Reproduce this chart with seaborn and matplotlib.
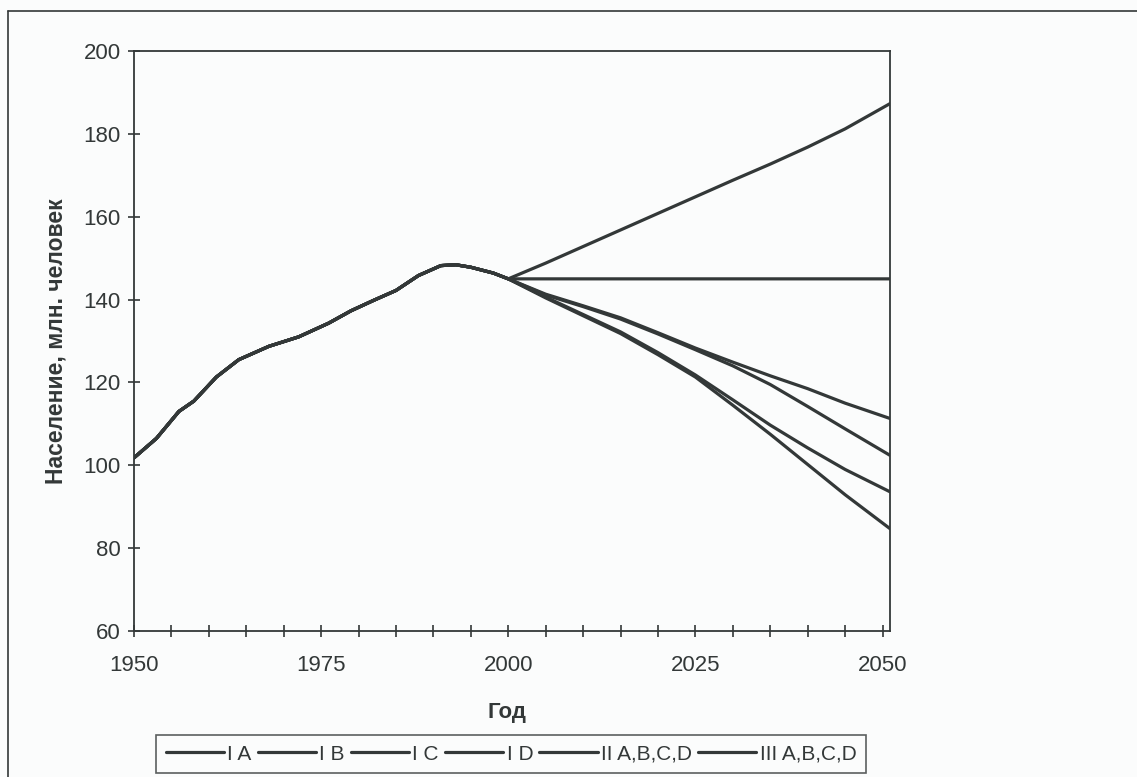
import numpy as np
import pandas as pd
import matplotlib
matplotlib.use("Agg")
import matplotlib.pyplot as plt
import seaborn as sns
from matplotlib.ticker import MultipleLocator
from matplotlib.lines import Line2D

# historical population, mln
hist_years = [1950, 1953, 1956, 1958, 1961, 1964, 1968, 1972, 1976, 1979,
              1982, 1985, 1988, 1991, 1993, 1995, 1998, 2000]
hist_pop = [101.8, 106.5, 113.0, 115.5, 121.3, 125.5, 128.7, 131.0, 134.3, 137.3,
            139.8, 142.2, 145.8, 148.2, 148.4, 147.8, 146.4, 145.0]

# projection scenarios
proj_years = [2005, 2010, 2015, 2020, 2025, 2030, 2035, 2040, 2045, 2051]
scen_IA = [141.3, 138.5, 135.6, 132.0, 128.3, 124.9, 121.6, 118.5, 115.0, 111.3]
scen_IB = [141.1, 138.3, 135.3, 131.7, 127.9, 124.0, 119.5, 114.2, 108.8, 102.4]
scen_IC = [140.6, 136.4, 132.2, 127.2, 121.8, 115.8, 109.7, 104.2, 99.0, 93.6]
scen_ID = [140.4, 136.1, 131.8, 126.7, 121.3, 114.5, 107.5, 100.2, 92.9, 84.7]
scen_II = [145.0, 145.0, 145.0, 145.0, 145.0, 145.0, 145.0, 145.0, 145.0, 145.0]
scen_III = [148.8, 152.8, 156.8, 160.8, 164.8, 168.8, 172.7, 176.8, 181.2, 187.3]

labels = ["I A", "I B", "I C", "I D", "II A,B,C,D", "III A,B,C,D"]
scenarios = [scen_IA, scen_IB, scen_IC, scen_ID, scen_II, scen_III]

rows = []
for lab, vals in zip(labels, scenarios):
    for y, v in zip(hist_years + proj_years, hist_pop + vals):
        rows.append({"year": y, "pop": v, "scenario": lab})
df = pd.DataFrame(rows)

sns.set_style("white")
plt.rcParams["font.family"] = ["Liberation Sans", "DejaVu Sans"]

ink = "#333838"
bg = "#fbfcfc"

fig = plt.figure(figsize=(11.37, 7.77), dpi=100, facecolor=bg)
ax = fig.add_axes([134 / 1137, 1 - 631 / 777, 756 / 1137, 580 / 777])
ax.set_facecolor(bg)

sns.lineplot(data=df, x="year", y="pop", hue="scenario", hue_order=labels,
             palette=[ink] * 6, linewidth=2.3, ax=ax, legend=False, sort=False)

ax.set_xlim(1950, 2051)
ax.set_ylim(60, 200)
ax.set_xticks([1950, 1975, 2000, 2025, 2050])
ax.xaxis.set_minor_locator(MultipleLocator(5))
ax.yaxis.set_major_locator(MultipleLocator(20))

for s in ax.spines.values():
    s.set_color(ink)
    s.set_linewidth(1.3)

ax.tick_params(axis="both", which="both", direction="inout", color=ink,
               width=1.2, labelsize=16, labelcolor=ink,
               bottom=True, left=True, top=False, right=False)
ax.tick_params(axis="both", which="major", length=9)
ax.tick_params(axis="x", which="minor", length=9)
ax.tick_params(axis="x", pad=13)
ax.tick_params(axis="y", pad=5)

ax.set_xlabel("Год", fontsize=16, fontweight="bold", color=ink)
ax.set_ylabel("Население, млн. человек", fontsize=16.5, fontweight="bold", color=ink)
ax.xaxis.set_label_coords(0.493, -0.14)
ax.xaxis.label.set_va("center")
ax.yaxis.set_label_coords(-0.103, 0.5)
ax.yaxis.label.set_va("center")

handles = [Line2D([], [], color=ink, linewidth=2.3) for _ in labels]
leg = fig.legend(handles, labels, loc="center", ncol=6,
                 bbox_to_anchor=(511 / 1137, 1 - 754 / 777),
                 fontsize=15, frameon=True, fancybox=False, edgecolor=ink,
                 handlelength=2.8, handletextpad=0.15, columnspacing=0.3,
                 borderpad=0.45, borderaxespad=0)
leg.get_frame().set_linewidth(1.2)
leg.get_frame().set_facecolor(bg)
for t in leg.get_texts():
    t.set_color(ink)

# outer chart-area frame (top and left visible)
fig.add_artist(Line2D([8 / 1137, 1.0], [1 - 11 / 777, 1 - 11 / 777],
                      transform=fig.transFigure, color=ink, linewidth=1.2))
fig.add_artist(Line2D([8 / 1137, 8 / 1137], [0.0, 1 - 11 / 777],
                      transform=fig.transFigure, color=ink, linewidth=1.2))

fig.savefig("out.png", dpi=100, facecolor=bg)
